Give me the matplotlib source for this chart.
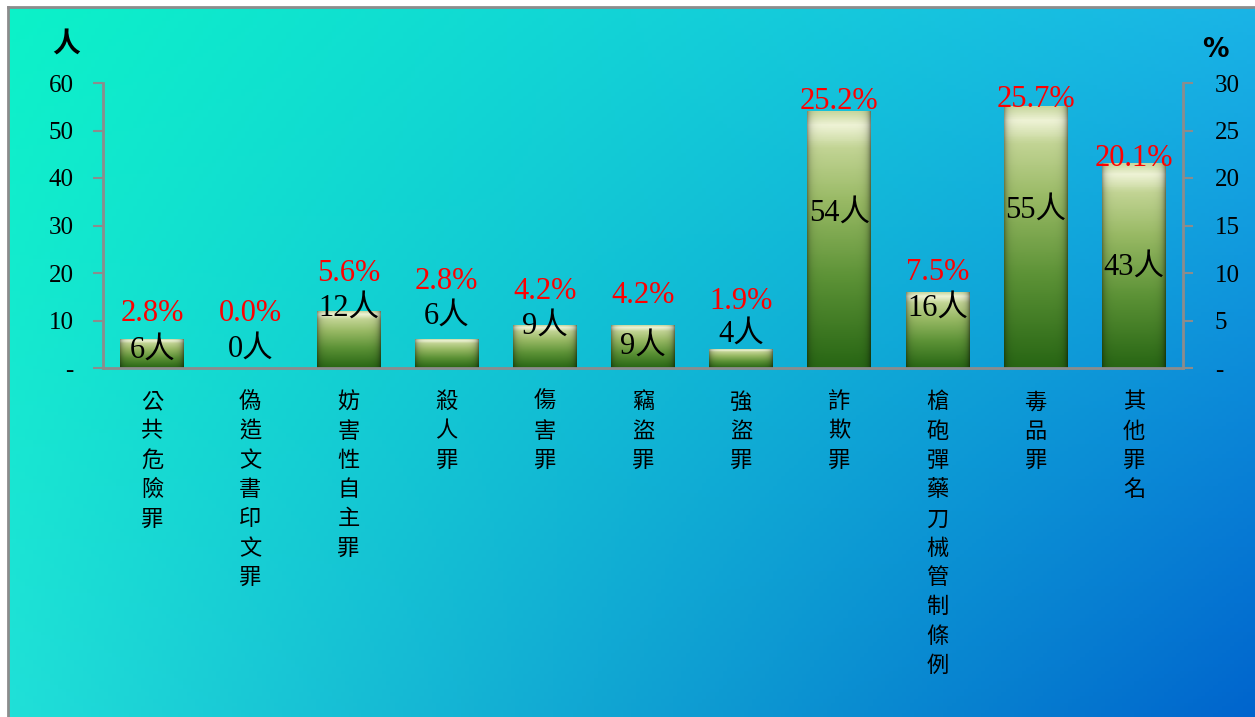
import numpy as np
import matplotlib.pyplot as plt
from matplotlib.colors import LinearSegmentedColormap

categories = ['公共危險罪', '偽造文書印文罪', '妨害性自主罪', '殺人罪', '傷害罪', '竊盜罪',
              '強盜罪', '詐欺罪', '槍砲彈藥刀械管制條例', '毒品罪', '其他罪名']
counts = [6, 0, 12, 6, 9, 9, 4, 54, 16, 55, 43]
pct_labels = ['2.8%', '0.0%', '5.6%', '2.8%', '4.2%', '4.2%', '1.9%', '25.2%', '7.5%', '25.7%', '20.1%']
# label positions (in 人 units)
count_label_y = [3.8, 4.0, 12.6, 10.9, 8.8, 4.6, 7.2, 32.6, 12.6, 33.3, 21.3]
pct_label_y = [11.4, 11.4, 19.8, 18.3, 16.2, 15.2, 14.1, 56.2, 20.0, 56.6, 44.0]

serif = ['Liberation Serif', 'Noto Sans CJK TC']
cjk = ['Noto Sans CJK TC', 'DejaVu Sans']

fig = plt.figure(figsize=(12.55, 7.17), dpi=100)
fig.patch.set_facecolor('white')

# background gradient
bg = fig.add_axes([8 / 1255, 0, 1 - 8 / 1255, 1 - 7 / 717])
tl = np.array([12, 242, 200]) / 255
tr = np.array([26, 180, 230]) / 255
bl = np.array([32, 224, 216]) / 255
br = np.array([0, 100, 205]) / 255
u = np.linspace(0, 1, 300)[None, :, None]
v = np.linspace(0, 1, 200)[:, None, None]
img = (1 - u) * (1 - v) * tl + u * (1 - v) * tr + (1 - u) * v * bl + u * v * br
bg.imshow(np.clip(img, 0, 1), aspect='auto', extent=[0, 1, 0, 1], origin='upper')
bg.set_xticks([])
bg.set_yticks([])
for s in ['left', 'top']:
    bg.spines[s].set_color('#8c8c8c')
    bg.spines[s].set_linewidth(2)
for s in ['right', 'bottom']:
    bg.spines[s].set_visible(False)

ax = fig.add_axes([103 / 1255, 1 - 368 / 717, (1183 - 103) / 1255, (368 - 83) / 717])
ax.patch.set_alpha(0)
x = np.arange(len(categories))
width = 0.65

bar_cmap = LinearSegmentedColormap.from_list('bar', [
    (0.0, '#286614'), (0.35, '#5c9236'), (0.65, '#98b964'), (0.86, '#c2d494'),
    (0.95, '#f0f4d8'), (1.0, '#c9d8a0')])
bars = ax.bar(x, counts, width, color='none', edgecolor='none')
for b in bars:
    h = b.get_height()
    if h <= 0:
        continue
    vert = bar_cmap(np.linspace(0, 1, 120))[:, :3][::-1]
    hx = np.linspace(0, 1, 60)
    edge = 1 - 0.35 * np.exp(-hx / 0.05) - 0.45 * np.exp(-(1 - hx) / 0.05)
    im = vert[:, None, :] * edge[None, :, None]
    ax.imshow(im, aspect='auto', origin='upper', zorder=2,
              extent=[b.get_x(), b.get_x() + b.get_width(), 0, h])
ax.set_xlim(-0.5, len(categories) - 0.5)
ax.set_ylim(0, 60)

for i in range(len(categories)):
    ax.text(x[i], count_label_y[i], f'{counts[i]}人', ha='center', va='center',
            fontsize=22, family=serif, color='black', zorder=4)
    ax.text(x[i], pct_label_y[i], pct_labels[i], ha='center', va='center',
            fontsize=22, family=serif, color='red', zorder=4)

grey = '#8c8c8c'
ax.set_yticks(range(0, 61, 10))
ax.set_yticklabels(['-'] + [str(t) for t in range(10, 61, 10)], family=serif, fontsize=18)
ax.set_xticks(x)
ax.set_xticklabels(['\n'.join(c) for c in categories], family=cjk, fontsize=16,
                   linespacing=1.35, va='top')
ax.tick_params(axis='x', length=0, pad=16)
ax.tick_params(axis='y', length=7, width=1.5, color=grey, pad=14)
for s in ['top', 'right']:
    ax.spines[s].set_visible(False)
for s in ['left', 'bottom']:
    ax.spines[s].set_color(grey)
    ax.spines[s].set_linewidth(2)

ax2 = ax.twinx()
ax2.set_ylim(0, 30)
ax2.set_yticks(range(0, 31, 5))
ax2.set_yticklabels(['-'] + [str(t) for t in range(5, 31, 5)], family=serif, fontsize=18)
ax2.tick_params(axis='y', length=7, width=1.5, color=grey, pad=16)
for s in ['top', 'left', 'bottom']:
    ax2.spines[s].set_visible(False)
ax2.spines['right'].set_color(grey)
ax2.spines['right'].set_linewidth(2)

fig.text(66 / 1255, 1 - 45 / 717, '人', family=cjk, fontsize=20, fontweight='bold',
         ha='center', va='center')
fig.text(1215 / 1255, 1 - 50 / 717, '%', family='DejaVu Sans', fontsize=19,
         fontweight='bold', ha='center', va='center')

fig.savefig('out.png', dpi=100)
